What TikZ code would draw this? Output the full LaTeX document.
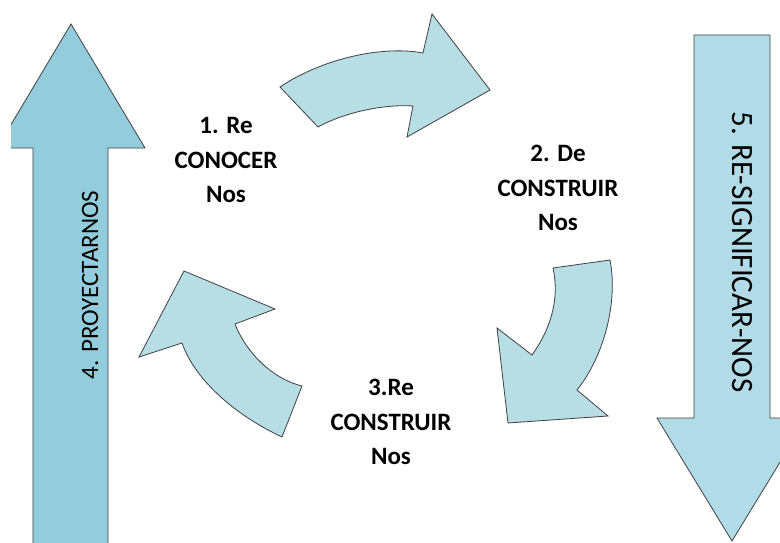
\documentclass[tikz,border=0pt]{standalone}
\usepackage{fontspec}
\setmainfont{Carlito}
\begin{document}
\begin{tikzpicture}[x=1pt,y=-1pt,
  outline/.style={draw=black!75,line width=0.8pt,line join=miter},
  bigleft/.style={outline,fill=leftblue},
  bigright/.style={outline,fill=rightblue},
  curvedarrow/.style={outline,fill=bendblue},
  steplabel/.style={align=center,font=\fontsize{25}{34.5}\selectfont\bfseries,inner sep=0pt},
  sidelabel/.style={inner sep=0pt,anchor=center}]
\definecolor{leftblue}{HTML}{93CDDD}
\definecolor{rightblue}{HTML}{B2DBE8}
\definecolor{bendblue}{HTML}{B7DDE5}
\useasboundingbox (0,0) rectangle (780,543);
\fill[white] (0,0) rectangle (780,543);

% big upward arrow on the left
\begin{scope}
  \clip (11,0) rectangle (780,543);
  \draw[bigleft] (71,24) -- (145,148) -- (108,148) -- (108,560) -- (33,560)
    -- (33,148) -- (-3,148) -- cycle;
\end{scope}
\node[sidelabel,rotate=90,font=\fontsize{25}{30}\selectfont] (proy) at (90,285) {4. PROYECTARNOS};

% big downward arrow on the right
\begin{scope}
  \clip (0,0) rectangle (780,543);
  \draw[bigright] (694,35) -- (770,35) -- (770,418) -- (807,418) -- (732,541)
    -- (657,418) -- (694,418) -- cycle;
\end{scope}
\node[sidelabel,rotate=-90,font=\fontsize{31}{36}\selectfont] (resig) at (742,252) {5. RE-SIGNIFICAR-NOS};

% curved arrow from step 1 to step 2
\draw[curvedarrow] (280,87) -- (318,127)
  .. controls (345,112) and (385,104) .. (413,106)
  -- (407,137) -- (490,90) -- (432,14) -- (423,53)
  .. controls (380,45) and (320,60) .. (280,87) -- cycle;

% curved arrow from step 2 to step 3
\draw[curvedarrow] (553,268) -- (610,260)
  .. controls (618,300) and (605,355) .. (577,390)
  -- (608,416) -- (508,423) -- (497,328) -- (532,355)
  .. controls (550,330) and (560,300) .. (553,268) -- cycle;

% curved arrow from step 3 back towards step 4
\draw[curvedarrow] (302,386) -- (282,437)
  .. controls (235,415) and (195,380) .. (182,343)
  -- (139,357) -- (184,271) -- (275,309) -- (235,324)
  .. controls (245,350) and (270,378) .. (302,386) -- cycle;

% step labels
\node[steplabel] (s1) at (226,160) {1. Re\\CONOCER\\Nos};
\node[steplabel] (s2) at (558,188) {2. De\\CONSTRUIR\\Nos};
\node[steplabel] (s3) at (391,422) {3.Re\\CONSTRUIR\\Nos};
\end{tikzpicture}
\end{document}
